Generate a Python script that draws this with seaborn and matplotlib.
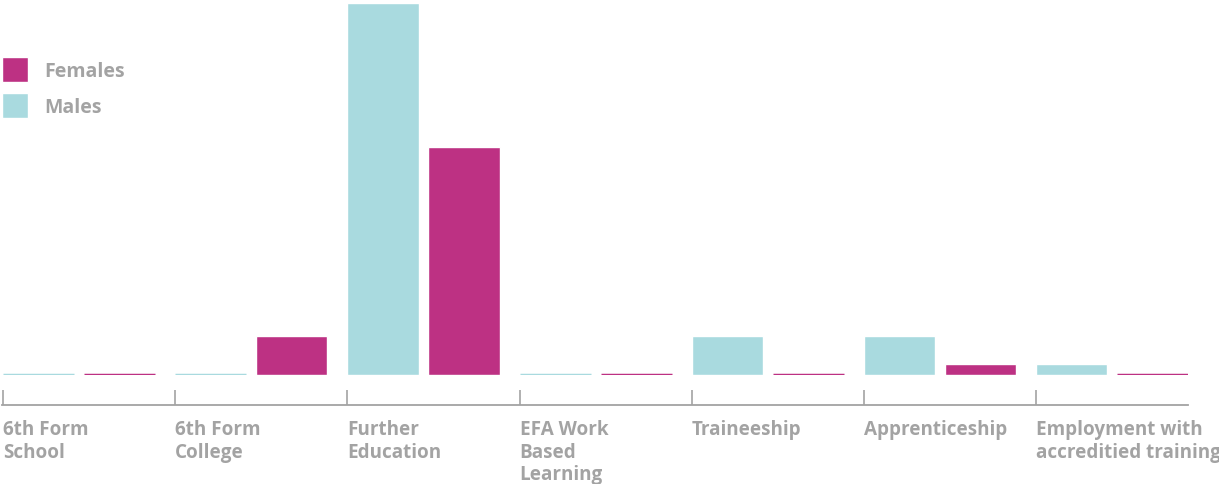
import numpy as np
import pandas as pd
import seaborn as sns
import matplotlib.pyplot as plt
from matplotlib.patches import Patch
from matplotlib.transforms import blended_transform_factory

# Values
categories = ['6th Form\nSchool', '6th Form\nCollege', 'Further\nEducation',
              'EFA Work\nBased\nLearning', 'Traineeship', 'Apprenticeship',
              'Employment with\naccreditied training']
males = [0, 0, 67, 0, 7, 7, 2]
females = [0, 7, 41, 0, 0, 2, 0]

male_col = '#A9DADF'
female_col = '#BD3183'
grey = '#A3A3A3'

df = pd.DataFrame({'category': categories * 2,
                   'value': males + females,
                   'sex': ['Males'] * len(categories) + ['Females'] * len(categories)})

sns.set_style('white')
plt.rcParams['font.family'] = ['Open Sans', 'DejaVu Sans']

fig = plt.figure(figsize=(12.19, 4.85), dpi=100)
ax = fig.add_axes([2 / 1219, 1 - 376 / 485, 1186 / 1219, 372 / 485])

sns.barplot(data=df, x='category', y='value', hue='sex', hue_order=['Males', 'Females'],
            palette=[male_col, female_col], width=0.942, gap=0.123, legend=False,
            saturation=1, ax=ax)

# zero values still show as a thin line on the baseline
for p in ax.patches:
    if p.get_height() == 0:
        p.set_edgecolor(p.get_facecolor())
        p.set_linewidth(2.5)

ax.set_ylim(0, 67)
ax.set_xlim(-0.448, 6.44)
ax.set_xlabel('')
ax.set_ylabel('')
ax.set_yticks([])

# ticks sit at the left edge of each group, labels hang from there
pos = np.arange(len(categories)) - 0.442
ax.set_xticks(pos)
ax.set_xticklabels([''] * len(pos))
ax.tick_params(axis='x', bottom=True, direction='in', length=11, width=1.2, color=grey)

trans = blended_transform_factory(ax.transData, fig.transFigure)
for x, lab in zip(pos, categories):
    ax.text(x, 1 - 420 / 485, lab, transform=trans, ha='left', va='top', fontsize=13.6,
            fontweight='bold', color=grey, linespacing=1.17, clip_on=False)

for s in ['top', 'right', 'left']:
    ax.spines[s].set_visible(False)
ax.spines['bottom'].set_position(('outward', 21.6))
ax.spines['bottom'].set_color(grey)
ax.spines['bottom'].set_linewidth(1.3)

handles = [Patch(facecolor=female_col, label='Females'),
           Patch(facecolor=male_col, label='Males')]
leg = fig.legend(handles=handles, loc='upper left', bbox_to_anchor=(2 / 1219, 1 - 58 / 485),
                 frameon=False, borderpad=0, borderaxespad=0, handlelength=1.33,
                 handleheight=1.61, labelspacing=0.57, handletextpad=0.85,
                 prop={'size': 14, 'weight': 'bold'})
for t in leg.get_texts():
    t.set_color(grey)

fig.savefig('out.png', dpi=100)
